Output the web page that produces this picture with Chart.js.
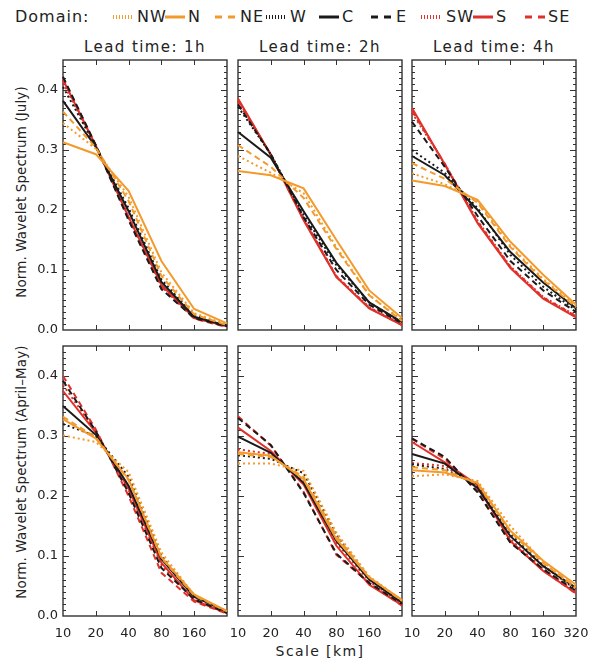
<!DOCTYPE html>
<html>
<head>
<meta charset="utf-8">
<script src="https://cdn.jsdelivr.net/npm/chart.js@4.4.0/dist/chart.umd.min.js"></script>
<style>
  body { margin: 0; width: 600px; height: 660px; position: relative; background: #fff; overflow: hidden;
         font-family: "DejaVu Sans", sans-serif; color: #222; }
  canvas { position: absolute; left: 0; top: 0; }
  .txt { position: absolute; white-space: nowrap; line-height: 1; }
  .legend-txt { font-size: 16px; letter-spacing: 1px; transform: translateY(-50%); }
  .sample { position: absolute; width: 20px; transform: translateY(-50%); }
  .title { font-size: 15px; letter-spacing: 1.4px; transform: translate(-50%, -50%); }
  .ytitle { font-size: 13.5px; letter-spacing: 0.1px; transform: translate(-50%, -50%) rotate(-90deg); }
</style>
</head>
<body>
<div id="wrap"></div>
<script>
  // x axis: spatial scale in km (evenly spaced, log2)
  const scaleLabels = ['10', '20', '40', '80', '160', '320'];
  const domains = ['NW', 'N', 'NE', 'W', 'C', 'E', 'SW', 'S', 'SE'];
  const leadTimes = ['1h', '2h', '4h'];
  const seasons = ['July', 'April\u2013May'];

  // rows follow the order of domains
  const july1h = [
    [0.345, 0.302, 0.222, 0.096, 0.028, 0.009],
    [0.313, 0.293, 0.232, 0.115, 0.035, 0.011],
    [0.364, 0.304, 0.215, 0.090, 0.026, 0.008],
    [0.405, 0.306, 0.203, 0.084, 0.024, 0.007],
    [0.382, 0.305, 0.198, 0.080, 0.022, 0.007],
    [0.422, 0.308, 0.183, 0.068, 0.020, 0.006],
    [0.412, 0.307, 0.190, 0.074, 0.021, 0.006],
    [0.417, 0.307, 0.188, 0.075, 0.020, 0.006],
    [0.420, 0.308, 0.186, 0.072, 0.019, 0.005],
  ];
  const july2h = [
    [0.290, 0.262, 0.228, 0.138, 0.058, 0.016],
    [0.265, 0.258, 0.236, 0.150, 0.066, 0.020],
    [0.308, 0.272, 0.220, 0.135, 0.058, 0.015],
    [0.372, 0.293, 0.192, 0.108, 0.046, 0.012],
    [0.330, 0.287, 0.198, 0.112, 0.046, 0.013],
    [0.376, 0.293, 0.188, 0.100, 0.042, 0.011],
    [0.380, 0.292, 0.186, 0.090, 0.038, 0.009],
    [0.386, 0.292, 0.183, 0.088, 0.036, 0.008],
    [0.383, 0.292, 0.184, 0.089, 0.037, 0.008],
  ];
  const july4h = [
    [0.261, 0.243, 0.215, 0.140, 0.085, 0.040],
    [0.249, 0.240, 0.217, 0.147, 0.092, 0.042],
    [0.278, 0.252, 0.212, 0.138, 0.083, 0.038],
    [0.300, 0.262, 0.203, 0.125, 0.072, 0.033],
    [0.290, 0.258, 0.200, 0.130, 0.079, 0.036],
    [0.347, 0.272, 0.190, 0.115, 0.066, 0.030],
    [0.362, 0.277, 0.182, 0.106, 0.055, 0.024],
    [0.370, 0.276, 0.178, 0.103, 0.052, 0.021],
    [0.365, 0.277, 0.180, 0.105, 0.054, 0.023],
  ];
  const april1h = [
    [0.301, 0.290, 0.240, 0.106, 0.035, 0.008],
    [0.328, 0.296, 0.228, 0.098, 0.036, 0.008],
    [0.332, 0.298, 0.226, 0.097, 0.034, 0.008],
    [0.320, 0.300, 0.232, 0.100, 0.033, 0.007],
    [0.350, 0.302, 0.217, 0.095, 0.032, 0.008],
    [0.392, 0.308, 0.205, 0.080, 0.028, 0.005],
    [0.385, 0.308, 0.210, 0.085, 0.027, 0.005],
    [0.375, 0.306, 0.212, 0.089, 0.026, 0.005],
    [0.400, 0.311, 0.200, 0.072, 0.024, 0.004],
  ];
  const april2h = [
    [0.254, 0.254, 0.242, 0.139, 0.066, 0.026],
    [0.273, 0.267, 0.228, 0.128, 0.064, 0.027],
    [0.270, 0.265, 0.232, 0.133, 0.065, 0.025],
    [0.268, 0.262, 0.238, 0.135, 0.063, 0.023],
    [0.299, 0.272, 0.222, 0.125, 0.061, 0.022],
    [0.330, 0.285, 0.205, 0.104, 0.055, 0.020],
    [0.278, 0.270, 0.225, 0.122, 0.058, 0.020],
    [0.314, 0.275, 0.219, 0.117, 0.052, 0.018],
    [0.333, 0.284, 0.207, 0.102, 0.055, 0.017],
  ];
  const april4h = [
    [0.233, 0.236, 0.225, 0.150, 0.090, 0.045],
    [0.243, 0.239, 0.222, 0.142, 0.092, 0.052],
    [0.248, 0.243, 0.220, 0.140, 0.088, 0.048],
    [0.253, 0.245, 0.218, 0.137, 0.084, 0.044],
    [0.270, 0.254, 0.213, 0.133, 0.083, 0.047],
    [0.296, 0.265, 0.206, 0.122, 0.078, 0.042],
    [0.255, 0.250, 0.215, 0.128, 0.078, 0.040],
    [0.290, 0.256, 0.218, 0.125, 0.075, 0.038],
    [0.295, 0.262, 0.208, 0.123, 0.076, 0.037],
  ];

  const ORANGE = '#f39a2c';
  const RED = '#e0302a';
  const BLACK = '#1a1a1a';
  const domainColors = [ORANGE, ORANGE, ORANGE, BLACK, BLACK, BLACK, RED, RED, RED];
  const domainStyles = ['dot', 'solid', 'dash', 'dot', 'solid', 'dash', 'dot', 'solid', 'dash'];
  const dashFor = { dot: [2, 3], solid: [], dash: [6, 4] };

  const FONT = '"DejaVu Sans", sans-serif';
  const colLeft = [63, 238, 412];
  const rowTop = [60, 346];
  const panelW = 164;
  const panelH = 270;
  const yAxisW = 50;
  const xAxisH = 30;

  const wrap = document.getElementById('wrap');

  function addText(cls, text, x, y) {
    const el = document.createElement('div');
    el.className = 'txt ' + cls;
    el.textContent = text;
    el.style.left = x + 'px';
    el.style.top = y + 'px';
    wrap.appendChild(el);
    return el;
  }

  // legend row
  addText('legend-txt', 'Domain:', 15, 17);
  const legendSampleX = [113, 165, 215, 266, 319, 371, 421, 473, 525];
  const legendTextX = [137, 188, 240, 290, 342, 396, 446, 496, 548];
  domains.forEach((d, i) => {
    const s = document.createElement('div');
    s.className = 'sample';
    s.style.left = legendSampleX[i] + 'px';
    s.style.top = '17px';
    const c = domainColors[i];
    if (domainStyles[i] === 'solid') {
      s.style.height = '3px';
      s.style.background = c;
    } else if (domainStyles[i] === 'dot') {
      s.style.height = '4px';
      s.style.background = `repeating-linear-gradient(90deg, ${c} 0 1px, transparent 1px 3px)`;
    } else {
      s.style.height = '3px';
      s.style.background = `repeating-linear-gradient(90deg, ${c} 0 7px, transparent 7px 13px)`;
    }
    wrap.appendChild(s);
    addText('legend-txt', d, legendTextX[i], 17);
  });

  // titles
  leadTimes.forEach((lt, c) => addText('title', 'Lead time: ' + lt, colLeft[c] + panelW / 2, 47));
  addText('ytitle', 'Norm. Wavelet Spectrum (' + seasons[0] + ')', 22, 192);
  addText('ytitle', 'Norm. Wavelet Spectrum (' + seasons[1] + ')', 22, 472);
  addText('title', 'Scale [km]', 320, 651).style.fontSize = '14px';

  const framePlugin = {
    id: 'frame',
    beforeDatasetsDraw(chart) {
      const { ctx, chartArea: a, scales: { x, y } } = chart;
      ctx.save();
      ctx.strokeStyle = '#333';
      ctx.lineWidth = 1;
      ctx.beginPath();
      for (let i = 1; i < scaleLabels.length - 1; i++) {
        const px = Math.round(x.getPixelForValue(i)) + 0.5;
        ctx.moveTo(px, a.bottom); ctx.lineTo(px, a.bottom - 5);
        ctx.moveTo(px, a.top); ctx.lineTo(px, a.top + 5);
      }
      for (let k = 1; k < 45; k++) {
        const py = Math.round(y.getPixelForValue(k / 100)) + 0.5;
        const len = k % 10 === 0 ? 6 : 3;
        ctx.moveTo(a.left, py); ctx.lineTo(a.left + len, py);
        ctx.moveTo(a.right, py); ctx.lineTo(a.right - len, py);
      }
      ctx.stroke();
      ctx.lineWidth = 1.4;
      ctx.strokeRect(a.left, a.top, a.right - a.left, a.bottom - a.top);
      ctx.restore();
    }
  };

  function makePanel(values, col, row) {
    const canvas = document.createElement('canvas');
    canvas.width = 600;
    canvas.height = 660;
    canvas.style.width = '600px';
    canvas.style.height = '660px';
    wrap.appendChild(canvas);
    const left = colLeft[col];
    const top = rowTop[row];
    new Chart(canvas.getContext('2d'), {
      type: 'line',
      data: {
        labels: scaleLabels,
        datasets: domains.map((d, i) => ({
          label: d,
          data: values[i],
          borderColor: domainColors[i],
          borderWidth: 2,
          borderDash: dashFor[domainStyles[i]],
          pointRadius: 0,
          fill: false,
          tension: 0,
        })),
      },
      options: {
        responsive: false,
        animation: false,
        devicePixelRatio: 1,
        layout: {
          padding: {
            left: left - yAxisW,
            top,
            right: 600 - left - panelW,
            bottom: 660 - top - panelH - xAxisH,
          },
        },
        plugins: { legend: { display: false }, tooltip: { enabled: false } },
        scales: {
          x: {
            type: 'category',
            offset: false,
            grid: { display: false, drawTicks: false },
            border: { display: false },
            ticks: {
              display: row === 1,
              autoSkip: false,
              maxRotation: 0,
              padding: 10,
              color: '#222',
              font: { family: FONT, size: 13 },
              callback: (v, i) => (col < 2 && i === scaleLabels.length - 1 ? '' : scaleLabels[i]),
            },
            afterFit: s => { s.height = xAxisH; },
          },
          y: {
            min: 0,
            max: 0.45,
            grid: { display: false, drawTicks: false },
            border: { display: false },
            ticks: {
              display: col === 0,
              stepSize: 0.1,
              includeBounds: false,
              padding: 5,
              color: '#222',
              font: { family: FONT, size: 13 },
              callback: v => v.toFixed(1),
            },
            afterFit: s => { s.width = yAxisW; },
          },
        },
      },
      plugins: [framePlugin],
    });
  }

  [[july1h, july2h, july4h], [april1h, april2h, april4h]].forEach((rowData, r) =>
    rowData.forEach((vals, c) => makePanel(vals, c, r)));
</script>
</body>
</html>
